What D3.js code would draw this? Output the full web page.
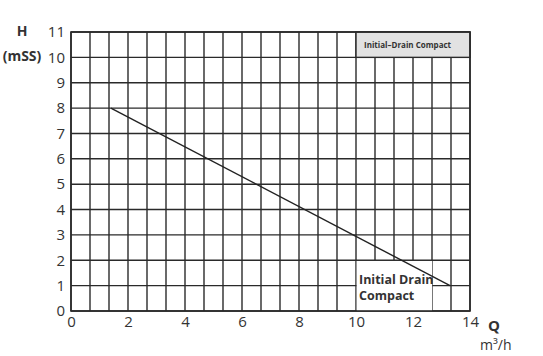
<!DOCTYPE html>
<meta charset="utf-8">
<style>
  body { margin: 0; background: #fff; }
  text { font-family: "Open Sans", sans-serif; fill: #333; }
  .grid line { stroke: #2a2a2a; stroke-width: 1.4; }
</style>
<svg width="543" height="356"></svg>
<script src="https://d3js.org/d3.v7.min.js"></script>
<script>
// curve: Q (m3/h) vs H (mSS)
var curveQ = [1.4, 13.3];
var curveH = [8, 1];
var xTicks = [0, 2, 4, 6, 8, 10, 12, 14];
var yTicks = [0, 1, 2, 3, 4, 5, 6, 7, 8, 9, 10, 11];
var title = "Initial–Drain Compact";
var curveLabel = ["Initial Drain", "Compact"];

var svg = d3.select("svg");

var x = d3.scaleLinear().domain([0, 14]).range([71, 470]);
var y = d3.scaleLinear().domain([0, 11]).range([311, 32]);

// vertical grid every 2/3 unit
var vLines = d3.range(0, 22).map(function(i) { return i * 2 / 3; });

var g = svg.append("g").attr("class", "grid");
g.selectAll(".v").data(vLines).enter().append("line")
    .attr("x1", function(d) { return x(d); })
    .attr("x2", function(d) { return x(d); })
    .attr("y1", y(0)).attr("y2", y(11));
g.selectAll(".h").data(yTicks).enter().append("line")
    .attr("x1", x(0)).attr("x2", x(14))
    .attr("y1", function(d) { return y(d); })
    .attr("y2", function(d) { return y(d); });

// title box top right
svg.append("rect")
    .attr("x", x(10)).attr("y", y(11))
    .attr("width", x(14) - x(10)).attr("height", y(10) - y(11))
    .attr("fill", "#e2e2e2").attr("stroke", "#2a2a2a").attr("stroke-width", 1.4);
svg.append("text")
    .attr("x", x(10) + 8).attr("y", (y(11) + y(10)) / 2 + 3)
    .style("font-size", "8px").style("font-weight", "bold")
    .text(title);

// curve label box
svg.append("rect")
    .attr("x", x(10) + 0.7).attr("y", y(2) + 0.7)
    .attr("width", x(12.67) - x(10) - 0.7).attr("height", y(0) - y(2) - 0.7)
    .attr("fill", "#fff");
svg.selectAll(".cl").data(curveLabel).enter().append("text")
    .attr("x", x(10) + 3)
    .attr("y", function(d, i) { return 284 + i * 16; })
    .style("font-size", "12.5px").style("font-weight", "bold")
    .text(function(d) { return d; });

// curve
svg.append("line")
    .attr("x1", x(curveQ[0])).attr("y1", y(curveH[0]))
    .attr("x2", x(curveQ[1])).attr("y2", y(curveH[1]))
    .attr("stroke", "#222").attr("stroke-width", 1.4);

// outer frame
svg.append("rect")
    .attr("x", x(0)).attr("y", y(11))
    .attr("width", x(14) - x(0)).attr("height", y(0) - y(11))
    .attr("fill", "none").attr("stroke", "#2a2a2a").attr("stroke-width", 1.6);

// axes
var xAxis = svg.append("g").attr("transform", "translate(0," + y(0) + ")")
    .call(d3.axisBottom(x).tickValues(xTicks).tickSize(0).tickPadding(5));
var yAxis = svg.append("g").attr("transform", "translate(" + x(0) + ",0)")
    .call(d3.axisLeft(y).tickValues(yTicks).tickSize(0).tickPadding(6));
xAxis.select(".domain").remove();
yAxis.select(".domain").remove();
xAxis.selectAll("text").style("font-size", "15px").attr("fill", "#333");
yAxis.selectAll("text").style("font-size", "15px").attr("fill", "#333");

// axis titles
svg.append("text").attr("x", 22).attr("y", 36).attr("text-anchor", "middle")
    .style("font-size", "14px").style("font-weight", "bold").text("H");
svg.append("text").attr("x", 22).attr("y", 61).attr("text-anchor", "middle")
    .style("font-size", "14px").style("font-weight", "bold").text("(mSS)");
svg.append("text").attr("x", 488).attr("y", 331)
    .style("font-size", "15px").style("font-weight", "bold").text("Q");
svg.append("text").attr("x", 480).attr("y", 350)
    .style("font-size", "14px").text("m³/h");
</script>
